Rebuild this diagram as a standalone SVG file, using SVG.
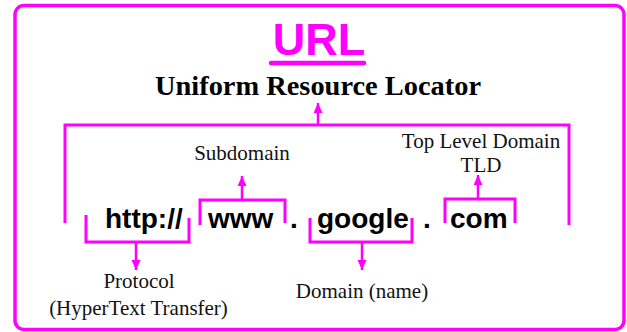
<svg xmlns="http://www.w3.org/2000/svg" width="627" height="332" viewBox="0 0 627 332">
<style>
.ln{fill:none;stroke:#ff00ff;stroke-width:3;stroke-linejoin:miter}
.ar{fill:none;stroke:#ff00ff;stroke-width:2.5}
.lbl{font-family:"Liberation Serif","Times New Roman",serif;font-size:21px;fill:#111;text-anchor:middle}
.part{font-family:"Liberation Sans",Arial,sans-serif;font-weight:bold;font-size:28px;fill:#000}
</style>
<defs>
<marker id="ah" markerUnits="userSpaceOnUse" markerWidth="11" markerHeight="10" refX="10" refY="4.5" orient="auto">
<path d="M0,0 L10,4.5 L0,9 z" fill="#ff00ff"/>
</marker>
</defs>
<rect x="15" y="5.5" width="609" height="324" rx="9" fill="#fff" stroke="#ff00ff" stroke-width="3.5"/>
<g id="title">
<text x="319" y="55" font-family="Liberation Sans,Arial,sans-serif" font-weight="bold" font-size="45" fill="#ff00ff" text-anchor="middle">URL</text>
<line x1="271" y1="63" x2="364" y2="63" stroke="#ff00ff" stroke-width="4.5" stroke-linecap="round"/>
<text x="318" y="95" font-family="Liberation Serif,Times New Roman,serif" font-weight="bold" font-size="27" fill="#000" text-anchor="middle" textLength="326" lengthAdjust="spacingAndGlyphs">Uniform Resource Locator</text>
</g>
<g id="connectors">
<polyline class="ln" points="65,223 65,125 569,125 569,225"/>
<line class="ar" x1="318" y1="125" x2="318" y2="103" marker-end="url(#ah)"/>
<polyline class="ln" points="86,215 86,242 189,242 189,218"/>
<line class="ar" x1="136" y1="242" x2="136" y2="270" marker-end="url(#ah)"/>
<polyline class="ln" points="200,225 200,200 285,200 285,223"/>
<line class="ar" x1="242" y1="200" x2="242" y2="176" marker-end="url(#ah)"/>
<polyline class="ln" points="310,218 310,242 412,242 412,218"/>
<line class="ar" x1="362" y1="242" x2="362" y2="270" marker-end="url(#ah)"/>
<polyline class="ln" points="445,223 445,199 515,199 515,223"/>
<line class="ar" x1="478" y1="199" x2="478" y2="175" marker-end="url(#ah)"/>
</g>
<g id="url-parts">
<text class="part" x="105" y="228">http://</text>
<text class="part" x="208" y="228">www</text>
<text class="part" x="290" y="228">.</text>
<text class="part" x="317" y="228">google</text>
<text class="part" x="423" y="228">.</text>
<text class="part" x="450" y="228">com</text>
</g>
<g id="subdomain"><text class="lbl" x="242" y="160">Subdomain</text></g>
<g id="tld"><text class="lbl" x="481" y="148">Top Level Domain</text><text class="lbl" x="481" y="172">TLD</text></g>
<g id="protocol"><text class="lbl" x="139" y="288">Protocol</text><text class="lbl" x="138.5" y="315">(HyperText Transfer)</text></g>
<g id="domain"><text class="lbl" x="362" y="298">Domain (name)</text></g>
</svg>
